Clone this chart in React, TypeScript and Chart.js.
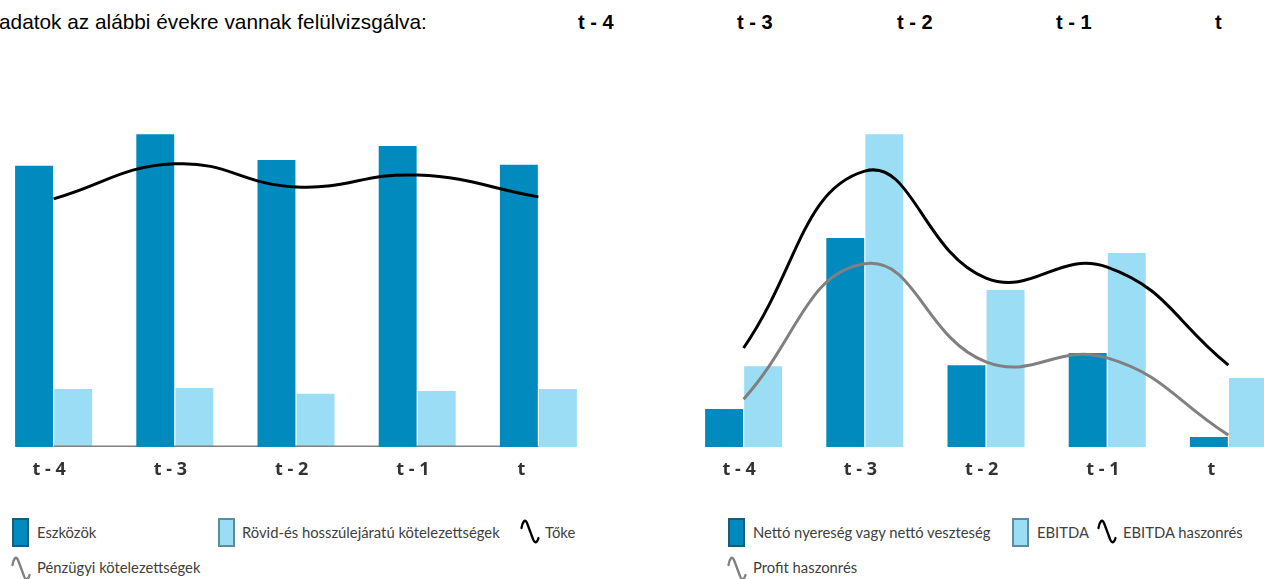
import React, { useEffect, useRef } from "react";
import { Chart, registerables } from "chart.js";

Chart.register(...registerables);

// ---------- data ----------
const categories = ["t - 4", "t - 3", "t - 2", "t - 1", "t"];
const titleText = "adatok az alábbi évekre vannak felülvizsgálva:";

const eszkozok = [85.2, 94.8, 87.0, 91.2, 85.5];
const rovidHosszu = [17.6, 17.9, 16.1, 17.0, 17.6];
const toke = [75.2, 85.8, 78.8, 82.4, 75.8];
const penzugyi = [0, 0, 0, 0, 0];

const nettoEredmeny = [11.5, 63.3, 24.8, 28.5, 3.0];
const ebitda = [24.5, 94.8, 47.6, 58.8, 20.9];
const ebitdaHaszonres = [30.0, 83.6, 51.2, 54.5, 24.8];
const profitHaszonres = [14.5, 55.5, 25.8, 27.0, 3.6];

// ---------- styles ----------
const DARK = "#008ABD";
const DARK_EDGE = "#1B5A78";
const LIGHT = "#9BDDF4";
const LIGHT_EDGE = "#5E8B9E";
const BLACK = "#000000";
const GRAY = "#808080";
const TEXT = "#404040";
const LEGEND_FONT = "Lato, 'Noto Sans', sans-serif";

type DS = any;

function barDs(label: string, data: number[], color: string, order: number): DS {
  return {
    type: "bar",
    label,
    data,
    backgroundColor: color,
    borderWidth: 0,
    categoryPercentage: 0.645,
    barPercentage: 0.97,
    order,
  };
}

function lineDs(label: string, data: number[], color: string, order: number): DS {
  return {
    type: "line",
    label,
    data,
    borderColor: color,
    backgroundColor: color,
    borderWidth: 3,
    pointRadius: 0,
    tension: 0.45,
    fill: false,
    order,
  };
}

function ComboChart(props: { datasets: DS[]; left: number; top: number; width: number; height: number }) {
  const ref = useRef<HTMLCanvasElement | null>(null);
  useEffect(() => {
    if (!ref.current) return;
    const chart = new Chart(ref.current, {
      type: "bar",
      data: { labels: categories, datasets: props.datasets },
      options: {
        animation: false,
        responsive: false,
        maintainAspectRatio: false,
        layout: { padding: 0 },
        plugins: {
          legend: { display: false },
          tooltip: { enabled: false },
          title: { display: false },
        },
        scales: {
          x: {
            offset: true,
            grid: { display: false, drawTicks: false },
            border: { display: false },
            ticks: {
              align: "start",
              labelOffset: -21,
              padding: 12,
              color: "#333333",
              autoSkip: false,
              maxRotation: 0,
              font: { family: "'Open Sans'", size: 18, weight: "bold" },
            },
            afterFit: (s: any) => {
              s.height = 50;
            },
          },
          y: { display: false, min: 0, max: 100 },
        },
      } as any,
    });
    return () => chart.destroy();
  }, []);
  return (
    <canvas
      ref={ref}
      width={props.width}
      height={props.height}
      style={{ position: "absolute", left: props.left, top: props.top, width: props.width, height: props.height }}
    />
  );
}

function Squiggle(props: { color: string; left: number; top: number }) {
  return (
    <svg
      width={20}
      height={27}
      viewBox="0 0 20 27"
      style={{ position: "absolute", left: props.left, top: props.top }}
    >
      <path
        d="M1.5 10 C2.5 4, 5 0, 7 5 L13 21 C14.5 25.5, 17 25.5, 18.5 20"
        stroke={props.color}
        strokeWidth={2.3}
        fill="none"
        strokeLinecap="round"
      />
    </svg>
  );
}

function BoxIcon(props: { fill: string; edge: string; left: number; top: number }) {
  return (
    <div
      style={{
        position: "absolute",
        left: props.left,
        top: props.top,
        width: 13,
        height: 25,
        background: props.fill,
        border: `2px solid ${props.edge}`,
      }}
    />
  );
}

function LegendText(props: { text: string; left: number; cy: number }) {
  return (
    <div
      style={{
        position: "absolute",
        left: props.left,
        top: props.cy - 10,
        height: 20,
        lineHeight: "20px",
        fontFamily: LEGEND_FONT,
        fontSize: 14.8,
        color: TEXT,
        whiteSpace: "nowrap",
      }}
    >
      {props.text}
    </div>
  );
}

export default function App() {
  const leftDatasets = [
    barDs("Eszközök", eszkozok, DARK, 1),
    barDs("Rövid-és hosszúlejáratú kötelezettségek", rovidHosszu, LIGHT, 3),
    lineDs("Tőke", toke, BLACK, 0),
    lineDs("Pénzügyi kötelezettségek", penzugyi, GRAY, 2),
  ];
  const rightDatasets = [
    barDs("Nettó nyereség vagy nettó veszteség", nettoEredmeny, DARK, 2),
    barDs("EBITDA", ebitda, LIGHT, 3),
    lineDs("EBITDA haszonrés", ebitdaHaszonres, BLACK, 0),
    lineDs("Profit haszonrés", profitHaszonres, GRAY, 1),
  ];

  const headerLefts = [578, 737, 897, 1056, 1215];
  const row1 = 532;
  const row2 = 567;

  return (
    <div
      style={{
        position: "fixed",
        left: 0,
        top: 0,
        width: 1264,
        height: 579,
        overflow: "hidden",
        background: "#ffffff",
      }}
    >
      <div
        style={{
          position: "absolute",
          left: -1,
          top: 10,
          fontFamily: "'Liberation Sans', Arial, sans-serif",
          fontSize: 20.8,
          lineHeight: "24px",
          color: "#000",
          whiteSpace: "nowrap",
        }}
      >
        {titleText}
      </div>
      {categories.map((c, i) => (
        <div
          key={c}
          style={{
            position: "absolute",
            left: headerLefts[i],
            top: 10,
            fontFamily: "'Liberation Sans', Arial, sans-serif",
            fontWeight: "bold",
            fontSize: 20,
            lineHeight: "24px",
            color: "#000",
            whiteSpace: "nowrap",
          }}
        >
          {c}
        </div>
      ))}

      <ComboChart datasets={leftDatasets} left={-7} top={117} width={606} height={380} />
      <ComboChart datasets={rightDatasets} left={683} top={117} width={606} height={380} />

      {/* left legend */}
      <BoxIcon fill={DARK} edge={DARK_EDGE} left={12} top={518} />
      <LegendText text={leftDatasets[0].label} left={37} cy={row1} />
      <BoxIcon fill={LIGHT} edge={LIGHT_EDGE} left={218} top={518} />
      <LegendText text={leftDatasets[1].label} left={242} cy={row1} />
      <Squiggle color={BLACK} left={520} top={518} />
      <LegendText text={leftDatasets[2].label} left={545} cy={row1} />
      <Squiggle color={GRAY} left={11} top={555} />
      <LegendText text={leftDatasets[3].label} left={37} cy={row2} />

      {/* right legend */}
      <BoxIcon fill={DARK} edge={DARK_EDGE} left={728} top={518} />
      <LegendText text={rightDatasets[0].label} left={753} cy={row1} />
      <BoxIcon fill={LIGHT} edge={LIGHT_EDGE} left={1012} top={518} />
      <LegendText text={rightDatasets[1].label} left={1037} cy={row1} />
      <Squiggle color={BLACK} left={1097} top={518} />
      <LegendText text={rightDatasets[2].label} left={1123} cy={row1} />
      <Squiggle color={GRAY} left={727} top={555} />
      <LegendText text={rightDatasets[3].label} left={753} cy={row2} />
    </div>
  );
}
